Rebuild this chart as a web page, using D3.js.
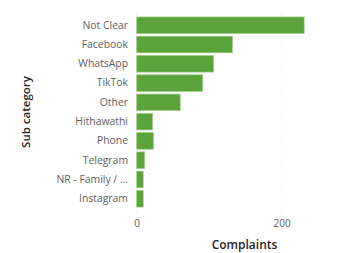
<!DOCTYPE html>
<html>
<head>
<meta charset="utf-8">
<script src="https://cdn.jsdelivr.net/npm/d3@7"></script>
<style>
  body { margin: 0; background: #fff; }
  text { font-family: "Open Sans", "Noto Sans", sans-serif; }
</style>
</head>
<body>
<svg id="chart" width="352" height="253"></svg>
<script>
// Complaints per sub category
var categories = ["Not Clear", "Facebook", "WhatsApp", "TikTok", "Other", "Hithawathi",
                  "Phone", "Telegram", "NR - Family / ...", "Instagram"];
var complaints = [231, 132, 106, 91, 60, 22, 23, 11, 9, 9];
var xTicks = [0, 200];

var svg = d3.select("#chart");

var xScale = d3.scaleLinear()
    .domain([0, 200])
    .range([136.7, 281.7]);

var yScale = d3.scaleBand()
    .domain(categories)
    .range([16, 208])
    .paddingInner(0.14)
    .paddingOuter(0.05);

// gridlines
svg.append("g").selectAll("line")
    .data(xTicks)
    .enter().append("line")
    .attr("x1", function(d) { return xScale(d); })
    .attr("x2", function(d) { return xScale(d); })
    .attr("y1", 12)
    .attr("y2", 214)
    .attr("stroke", "#e4e4e4")
    .attr("stroke-width", 1)
    .attr("stroke-dasharray", "1,2");

// bars
svg.append("g").selectAll("rect")
    .data(complaints)
    .enter().append("rect")
    .attr("x", xScale(0))
    .attr("y", function(d, i) { return yScale(categories[i]); })
    .attr("width", function(d) { return xScale(d) - xScale(0); })
    .attr("height", yScale.bandwidth())
    .attr("fill", "#5ba33b")
    .attr("stroke", "#9ccc87")
    .attr("stroke-width", 0.7);

// category labels
var yAxis = d3.axisLeft(yScale).tickSize(0).tickPadding(0);
var yG = svg.append("g")
    .attr("transform", "translate(128,0)")
    .call(yAxis);
yG.select(".domain").remove();
yG.selectAll("text")
    .attr("fill", "#605e5c")
    .style("font-size", "10.4px")
    .style("font-family", "'Open Sans', sans-serif");

// x tick labels
var xAxis = d3.axisBottom(xScale).tickValues(xTicks).tickSize(0).tickPadding(0);
var xG = svg.append("g")
    .attr("transform", "translate(0,220)")
    .call(xAxis);
xG.select(".domain").remove();
xG.selectAll("text")
    .attr("fill", "#605e5c")
    .style("font-size", "10px")
    .style("font-family", "'Open Sans', sans-serif");

// axis titles
svg.append("text")
    .attr("x", 244.5)
    .attr("y", 249)
    .attr("text-anchor", "middle")
    .attr("fill", "#252423")
    .style("font-size", "12px")
    .style("font-weight", "600")
    .text("Complaints");

svg.append("text")
    .attr("transform", "translate(30,112) rotate(-90)")
    .attr("text-anchor", "middle")
    .attr("fill", "#252423")
    .style("font-size", "11.5px")
    .style("font-weight", "600")
    .text("Sub category");
</script>
</body>
</html>
